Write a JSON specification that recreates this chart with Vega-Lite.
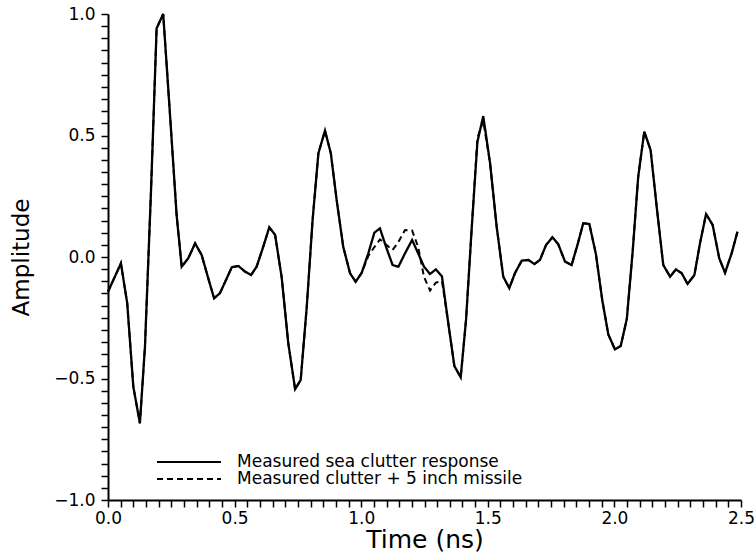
{
  "$schema": "https://vega.github.io/schema/vega-lite/v6.json",
  "width": 633,
  "height": 486,
  "autosize": {"type": "none"},
  "padding": {"left": 108, "top": 14, "right": 14, "bottom": 53},
  "background": "white",
  "config": {"view": {"stroke": null}, "font": "DejaVu Sans", "axis": {"ticks": true}},
  "datasets": {
    "solid": [
      {"t":0,"a":-0.143},{"t":0.051,"a":-0.026},{"t":0.076,"a":-0.191},{"t":0.1,"a":-0.534},{"t":0.126,"a":-0.684},
      {"t":0.146,"a":-0.369},{"t":0.17,"a":0.276},{"t":0.192,"a":0.941},{"t":0.218,"a":1.0},{"t":0.245,"a":0.584},
      {"t":0.271,"a":0.173},{"t":0.291,"a":-0.04},{"t":0.317,"a":-0.005},{"t":0.344,"a":0.056},{"t":0.37,"a":0.008},
      {"t":0.396,"a":-0.088},{"t":0.419,"a":-0.17},{"t":0.442,"a":-0.149},{"t":0.469,"a":-0.088},{"t":0.489,"a":-0.042},
      {"t":0.515,"a":-0.037},{"t":0.541,"a":-0.06},{"t":0.565,"a":-0.074},{"t":0.587,"a":-0.04},{"t":0.613,"a":0.042},
      {"t":0.637,"a":0.122},{"t":0.66,"a":0.091},{"t":0.686,"a":-0.084},{"t":0.712,"a":-0.355},{"t":0.739,"a":-0.544},
      {"t":0.761,"a":-0.506},{"t":0.785,"a":-0.205},{"t":0.808,"a":0.152},{"t":0.831,"a":0.427},{"t":0.857,"a":0.52},
      {"t":0.88,"a":0.427},{"t":0.903,"a":0.235},{"t":0.929,"a":0.042},{"t":0.956,"a":-0.067},{"t":0.978,"a":-0.102},
      {"t":1.002,"a":-0.065},{"t":1.028,"a":0.015},{"t":1.052,"a":0.1},{"t":1.074,"a":0.118},{"t":1.098,"a":0.042},
      {"t":1.124,"a":-0.033},{"t":1.147,"a":-0.04},{"t":1.173,"a":0.015},{"t":1.201,"a":0.07},{"t":1.225,"a":0.015},
      {"t":1.248,"a":-0.04},{"t":1.272,"a":-0.07},{"t":1.295,"a":-0.051},{"t":1.319,"a":-0.08},{"t":1.344,"a":-0.273},
      {"t":1.368,"a":-0.449},{"t":1.393,"a":-0.495},{"t":1.414,"a":-0.259},{"t":1.436,"a":0.111},{"t":1.459,"a":0.474},
      {"t":1.482,"a":0.58},{"t":1.509,"a":0.386},{"t":1.535,"a":0.125},{"t":1.561,"a":-0.081},{"t":1.585,"a":-0.128},
      {"t":1.607,"a":-0.067},{"t":1.634,"a":-0.015},{"t":1.66,"a":-0.012},{"t":1.684,"a":-0.029},{"t":1.706,"a":-0.012},
      {"t":1.73,"a":0.049},{"t":1.755,"a":0.081},{"t":1.778,"a":0.053},{"t":1.805,"a":-0.019},{"t":1.831,"a":-0.033},
      {"t":1.855,"a":0.053},{"t":1.877,"a":0.139},{"t":1.901,"a":0.136},{"t":1.927,"a":0.012},{"t":1.952,"a":-0.177},
      {"t":1.976,"a":-0.319},{"t":2.002,"a":-0.38},{"t":2.025,"a":-0.366},{"t":2.049,"a":-0.255},{"t":2.072,"a":0.021},
      {"t":2.094,"a":0.33},{"t":2.118,"a":0.516},{"t":2.143,"a":0.44},{"t":2.167,"a":0.207},{"t":2.193,"a":-0.033},
      {"t":2.22,"a":-0.081},{"t":2.243,"a":-0.051},{"t":2.266,"a":-0.067},{"t":2.289,"a":-0.111},{"t":2.316,"a":-0.074},
      {"t":2.338,"a":0.056},{"t":2.362,"a":0.177},{"t":2.388,"a":0.132},{"t":2.414,"a":-0.005},{"t":2.437,"a":-0.065},
      {"t":2.463,"a":0.015},{"t":2.486,"a":0.104}
    ],
    "dashed": [
      {"t":0,"a":-0.143},{"t":0.051,"a":-0.026},{"t":0.076,"a":-0.191},{"t":0.1,"a":-0.534},{"t":0.126,"a":-0.684},
      {"t":0.146,"a":-0.369},{"t":0.17,"a":0.276},{"t":0.192,"a":0.941},{"t":0.218,"a":1.0},{"t":0.245,"a":0.584},
      {"t":0.271,"a":0.173},{"t":0.291,"a":-0.04},{"t":0.317,"a":-0.005},{"t":0.344,"a":0.056},{"t":0.37,"a":0.008},
      {"t":0.396,"a":-0.088},{"t":0.419,"a":-0.17},{"t":0.442,"a":-0.149},{"t":0.469,"a":-0.088},{"t":0.489,"a":-0.042},
      {"t":0.515,"a":-0.037},{"t":0.541,"a":-0.06},{"t":0.565,"a":-0.074},{"t":0.587,"a":-0.04},{"t":0.613,"a":0.042},
      {"t":0.637,"a":0.122},{"t":0.66,"a":0.091},{"t":0.686,"a":-0.084},{"t":0.712,"a":-0.355},{"t":0.739,"a":-0.544},
      {"t":0.761,"a":-0.506},{"t":0.785,"a":-0.205},{"t":0.808,"a":0.152},{"t":0.831,"a":0.427},{"t":0.857,"a":0.52},
      {"t":0.88,"a":0.427},{"t":0.903,"a":0.235},{"t":0.929,"a":0.042},{"t":0.956,"a":-0.067},{"t":0.978,"a":-0.102},
      {"t":1.002,"a":-0.065},{"t":1.028,"a":0.004},{"t":1.052,"a":0.041},{"t":1.074,"a":0.072},{"t":1.098,"a":0.051},
      {"t":1.124,"a":0.029},{"t":1.147,"a":0.062},{"t":1.173,"a":0.111},{"t":1.201,"a":0.109},{"t":1.225,"a":0.041},
      {"t":1.248,"a":-0.082},{"t":1.272,"a":-0.138},{"t":1.295,"a":-0.105},{"t":1.319,"a":-0.099},{"t":1.344,"a":-0.273},
      {"t":1.368,"a":-0.449},{"t":1.393,"a":-0.495},{"t":1.414,"a":-0.259},{"t":1.436,"a":0.111},{"t":1.459,"a":0.49},
      {"t":1.482,"a":0.56},{"t":1.509,"a":0.386},{"t":1.535,"a":0.125},{"t":1.561,"a":-0.081},{"t":1.585,"a":-0.128},
      {"t":1.607,"a":-0.067},{"t":1.634,"a":-0.015},{"t":1.66,"a":-0.012},{"t":1.684,"a":-0.029},{"t":1.706,"a":-0.012},
      {"t":1.73,"a":0.049},{"t":1.755,"a":0.081},{"t":1.778,"a":0.053},{"t":1.805,"a":-0.019},{"t":1.831,"a":-0.033},
      {"t":1.855,"a":0.053},{"t":1.877,"a":0.139},{"t":1.901,"a":0.136},{"t":1.927,"a":0.012},{"t":1.952,"a":-0.177},
      {"t":1.976,"a":-0.319},{"t":2.002,"a":-0.38},{"t":2.025,"a":-0.366},{"t":2.049,"a":-0.255},{"t":2.072,"a":0.021},
      {"t":2.094,"a":0.33},{"t":2.118,"a":0.516},{"t":2.143,"a":0.44},{"t":2.167,"a":0.207},{"t":2.193,"a":-0.033},
      {"t":2.22,"a":-0.081},{"t":2.243,"a":-0.051},{"t":2.266,"a":-0.067},{"t":2.289,"a":-0.111},{"t":2.316,"a":-0.074},
      {"t":2.338,"a":0.056},{"t":2.362,"a":0.177},{"t":2.388,"a":0.132},{"t":2.414,"a":-0.005},{"t":2.437,"a":-0.065},
      {"t":2.463,"a":0.015},{"t":2.486,"a":0.104}
    ]
  },
  "layer": [
    {
      "data": {"name": "solid"},
      "transform": [{"calculate": "'Measured sea clutter response'", "as": "series"}],
      "mark": {"type": "line", "color": "black", "strokeWidth": 2.3},
      "encoding": {
        "x": {
          "field": "t", "type": "quantitative",
          "scale": {"domain": [0, 2.5], "nice": false, "zero": false},
          "axis": {
            "title": "Time (ns)",
            "values": [0,0.05,0.1,0.15,0.2,0.25,0.3,0.35,0.4,0.45,0.5,0.55,0.6,0.65,0.7,0.75,0.8,0.85,0.9,0.95,1,1.05,1.1,1.15,1.2,1.25,1.3,1.35,1.4,1.45,1.5,1.55,1.6,1.65,1.7,1.75,1.8,1.85,1.9,1.95,2,2.05,2.1,2.15,2.2,2.25,2.3,2.35,2.4,2.45,2.5],
            "tickCount": 200,
            "labelExpr": "abs(datum.value*2-round(datum.value*2))<0.001 ? format(datum.value,'.1f') : ''",
            "labelOverlap": false, "labelFlush": false,
            "grid": false,
            "ticks": true,
            "domainColor": "black", "domainWidth": 2,
            "tickColor": "#000000", "tickWidth": 1.5, "tickSize": 7, "tickOpacity": 1,
            "labelPadding": 3,
            "labelFont": "DejaVu Sans", "labelFontSize": 17, "labelColor": "black",
            "titleFont": "DejaVu Sans", "titleFontSize": 25, "titleFontWeight": "normal", "titleColor": "black",
            "titlePadding": 1,
            "encode": {"ticks": {"update": {
              "opacity": {"value": 1}, "stroke": {"value": "#000000"}, "strokeWidth": {"value": 1.5},
              "y": {"value": 0},
              "y2": {"signal": "abs(datum.value*2-round(datum.value*2))<0.001 ? 10 : 6"}
            }}}
          }
        },
        "y": {
          "field": "a", "type": "quantitative",
          "scale": {"domain": [-1, 1], "nice": false, "zero": false},
          "axis": {
            "title": "Amplitude",
            "values": [-1,-0.95,-0.9,-0.85,-0.8,-0.75,-0.7,-0.65,-0.6,-0.55,-0.5,-0.45,-0.4,-0.35,-0.3,-0.25,-0.2,-0.15,-0.1,-0.05,0,0.05,0.1,0.15,0.2,0.25,0.3,0.35,0.4,0.45,0.5,0.55,0.6,0.65,0.7,0.75,0.8,0.85,0.9,0.95,1],
            "tickCount": 200,
            "labelExpr": "abs(datum.value*2-round(datum.value*2))<0.001 ? format(datum.value,'.1f') : ''",
            "labelOverlap": false, "labelFlush": false,
            "grid": false,
            "ticks": true,
            "domainColor": "black", "domainWidth": 2,
            "tickColor": "#000000", "tickWidth": 1.5, "tickSize": 7, "tickOpacity": 1,
            "labelPadding": 6,
            "labelFont": "DejaVu Sans", "labelFontSize": 17, "labelColor": "black",
            "titleFont": "DejaVu Sans", "titleFontSize": 23, "titleFontWeight": "normal", "titleColor": "black",
            "titlePadding": 20,
            "encode": {"ticks": {"update": {
              "opacity": {"value": 1}, "stroke": {"value": "#000000"}, "strokeWidth": {"value": 1.5},
              "x": {"value": 0},
              "x2": {"signal": "abs(datum.value*2-round(datum.value*2))<0.001 ? -10 : -6"}
            }}}
          }
        },
        "strokeDash": {
          "field": "series", "type": "nominal",
          "scale": {"domain": ["Measured sea clutter response", "Measured clutter + 5 inch missile"], "range": [[1, 0], [6, 4]]},
          "legend": {
            "title": null, "orient": "none", "legendX": 72, "legendY": 439,
            "symbolType": "M-4,0H4", "symbolSize": 256, "symbolStrokeWidth": 2, "symbolStrokeColor": "black", "symbolFillColor": "transparent",
            "labelFont": "DejaVu Sans", "labelFontSize": 17, "labelColor": "black", "labelOffset": 39, "labelLimit": 0,
            "rowPadding": 0
          }
        }
      }
    },
    {
      "data": {"name": "dashed"},
      "transform": [{"calculate": "'Measured clutter + 5 inch missile'", "as": "series"}],
      "mark": {"type": "line", "color": "black", "strokeWidth": 2},
      "encoding": {
        "x": {"field": "t", "type": "quantitative"},
        "y": {"field": "a", "type": "quantitative"},
        "strokeDash": {"field": "series", "type": "nominal"}
      }
    }
  ]
}
